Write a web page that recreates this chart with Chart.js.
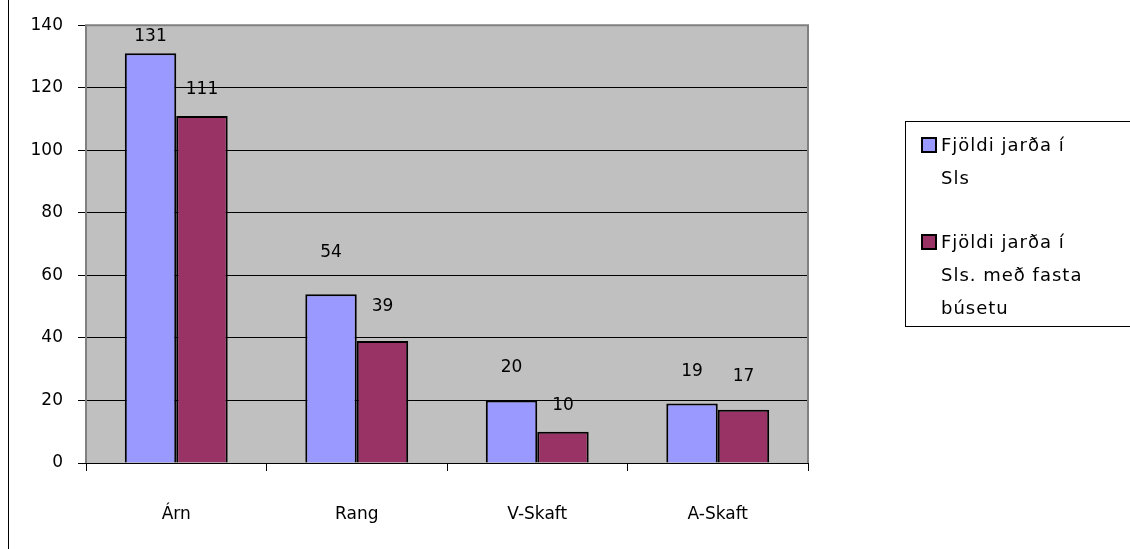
<!DOCTYPE html>
<html>
<head>
<meta charset="utf-8">
<script src="https://cdn.jsdelivr.net/npm/chart.js@4.4.1/dist/chart.umd.min.js"></script>
<style>
  html, body { margin: 0; padding: 0; background: #fff; }
  #wrap { position: relative; width: 1130px; height: 549px; overflow: hidden; font-family: "DejaVu Sans", sans-serif; }
  #frame { position: absolute; left: 8px; top: 0; width: 1px; height: 549px; background: #000; }
  #chart { position: absolute; left: 0; top: 0; }
  #legend { position: absolute; left: 905px; top: 121px; width: 260px; height: 206px; border: 1px solid #000; box-sizing: border-box; }
  .leg-item { position: absolute; left: 15px; display: flex; align-items: flex-start; }
  .leg-box { width: 12px; height: 12px; border: 2px solid #000; margin-top: 9px; margin-right: 4px; flex: none; }
  .leg-text { width: 152px; font-size: 18px; letter-spacing: 1px; line-height: 33px; color: #000; }
</style>
</head>
<body>
<div id="wrap">
  <div id="frame"></div>
  <canvas id="chart" width="1130" height="549"></canvas>
  <div id="legend"></div>
</div>
<script>
// data
const districts = ['Árn', 'Rang', 'V-Skaft', 'A-Skaft'];
const farmsTotal = [131, 54, 20, 19];
const farmsSettled = [111, 39, 10, 17];
const seriesNames = ['Fjöldi jarða í Sls', 'Fjöldi jarða í Sls. með fasta búsetu'];
const yTicks = [0, 20, 40, 60, 80, 100, 120, 140];
const colors = ['#9999FF', '#993366'];

// grey plot background + grey frame
const plotArea = {
  id: 'plotArea',
  beforeDraw(chart) {
    const { ctx, chartArea: a } = chart;
    ctx.save();
    ctx.fillStyle = '#C0C0C0';
    ctx.fillRect(a.left, a.top, a.width, a.height);
    ctx.restore();
  },
  afterDatasetsDraw(chart) {
    const { ctx, chartArea: a } = chart;
    ctx.save();
    ctx.strokeStyle = '#808080';
    ctx.lineWidth = 2;
    ctx.beginPath();
    ctx.moveTo(a.left, a.bottom);
    ctx.lineTo(a.left, a.top);
    ctx.lineTo(a.right, a.top);
    ctx.lineTo(a.right, a.bottom);
    ctx.stroke();
    ctx.strokeStyle = '#000';
    ctx.lineWidth = 1;
    ctx.beginPath();
    ctx.moveTo(a.left, a.bottom + 0.5);
    ctx.lineTo(a.right, a.bottom + 0.5);
    ctx.stroke();
    ctx.restore();
  }
};

// value labels above bars (Excel places them a bit unevenly)
const valueLabels = {
  id: 'valueLabels',
  afterDatasetsDraw(chart, args, opts) {
    const { ctx } = chart;
    ctx.save();
    ctx.font = '17px "DejaVu Sans"';
    ctx.fillStyle = '#000';
    ctx.textAlign = 'center';
    ctx.textBaseline = 'middle';
    chart.data.datasets.forEach((ds, di) => {
      chart.getDatasetMeta(di).data.forEach((bar, i) => {
        ctx.fillText(ds.data[i], bar.x, bar.y - opts.lift[di][i]);
      });
    });
    ctx.restore();
  }
};

new Chart(document.getElementById('chart'), {
  type: 'bar',
  data: {
    labels: districts,
    datasets: [
      { label: seriesNames[0], data: farmsTotal, backgroundColor: colors[0], borderColor: '#000', borderWidth: 2, borderSkipped: 'bottom' },
      { label: seriesNames[1], data: farmsSettled, backgroundColor: colors[1], borderColor: '#000', borderWidth: 2, borderSkipped: 'bottom' }
    ]
  },
  options: {
    responsive: false,
    animation: false,
    layout: { padding: { top: 18, right: 322, left: 0, bottom: 0 } },
    datasets: { bar: { categoryPercentage: 0.57, barPercentage: 1.0 } },
    plugins: {
      legend: { display: false },
      tooltip: { enabled: false },
      valueLabels: { lift: [[17, 42, 33, 32], [26, 34, 26, 33]] }
    },
    scales: {
      x: {
        afterFit: s => { s.height = 86; },
        grid: { offset: true, drawOnChartArea: false, drawTicks: true, tickLength: 8, color: '#000' },
        border: { display: false },
        ticks: { color: '#000', font: { family: 'DejaVu Sans', size: 17 }, padding: 33 }
      },
      y: {
        min: 0,
        max: 140,
        afterFit: s => { s.width = 86; },
        afterBuildTicks: s => { s.ticks = yTicks.map(v => ({ value: v })); },
        grid: { color: '#000', lineWidth: 1, tickLength: 8, drawTicks: true },
        border: { display: false },
        ticks: { color: '#000', font: { family: 'DejaVu Sans', size: 17 }, padding: 15 }
      }
    }
  },
  plugins: [plotArea, valueLabels]
});

// legend with wrapped text, like the original
const legend = document.getElementById('legend');
const itemTops = [6, 103];
seriesNames.forEach((name, i) => {
  const item = document.createElement('div');
  item.className = 'leg-item';
  item.style.top = itemTops[i] + 'px';
  item.innerHTML = `<div class="leg-box" style="background:${colors[i]}"></div><div class="leg-text">${name}</div>`;
  legend.appendChild(item);
});
</script>
</body>
</html>
